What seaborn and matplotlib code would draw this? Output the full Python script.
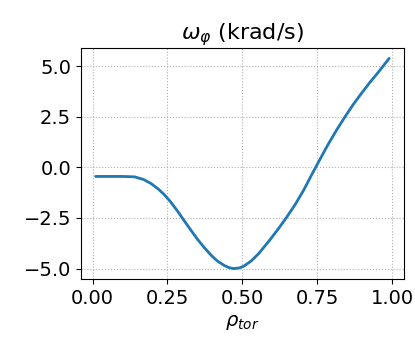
import pandas as pd
import matplotlib.pyplot as plt
import seaborn as sns

# profile
rho = [0.01, 0.05, 0.10, 0.14, 0.17, 0.195, 0.22, 0.24, 0.26, 0.283,
       0.305, 0.328, 0.35, 0.372, 0.395, 0.416, 0.44, 0.455, 0.47, 0.49,
       0.505, 0.53, 0.555, 0.59, 0.621, 0.65, 0.677, 0.705, 0.732, 0.76,
       0.787, 0.815, 0.843, 0.87, 0.898, 0.925, 0.953, 0.97, 0.99]
omega = [-0.45, -0.45, -0.45, -0.47, -0.60, -0.80, -1.08, -1.36, -1.70, -2.15,
         -2.62, -3.10, -3.55, -3.95, -4.33, -4.62, -4.85, -4.95, -5.00, -4.97,
         -4.88, -4.62, -4.25, -3.62, -3.02, -2.42, -1.82, -1.12, -0.35, 0.42,
         1.15, 1.85, 2.50, 3.10, 3.66, 4.18, 4.68, 5.00, 5.38]

df = pd.DataFrame({"rho": rho, "omega": omega})

sns.set_style("ticks")
plt.rcParams["font.family"] = ["DejaVu Sans"]
plt.rcParams["text.color"] = "black"

fig, ax = plt.subplots(figsize=(4.15, 3.42), dpi=100)
sns.lineplot(data=df, x="rho", y="omega", color="#1f77b4", linewidth=2.0, ax=ax)

ax.grid(True, linestyle=":", color="#b0b0b0", linewidth=0.8)
ax.set_xticks([0.0, 0.25, 0.5, 0.75, 1.0])
ax.set_yticks([-5.0, -2.5, 0.0, 2.5, 5.0])
ax.tick_params(labelsize=14, colors="black")
ax.set_title(r"$\omega_\varphi$ (krad/s)", fontsize=16, color="black")
ax.set_xlabel(r"$\rho_{tor}$", fontsize=14, color="black")
ax.set_ylabel("")
for s in ax.spines.values():
    s.set_color("black")

fig.subplots_adjust(left=0.195, right=0.973, top=0.86, bottom=0.184)
fig.savefig("out.png", dpi=100)
